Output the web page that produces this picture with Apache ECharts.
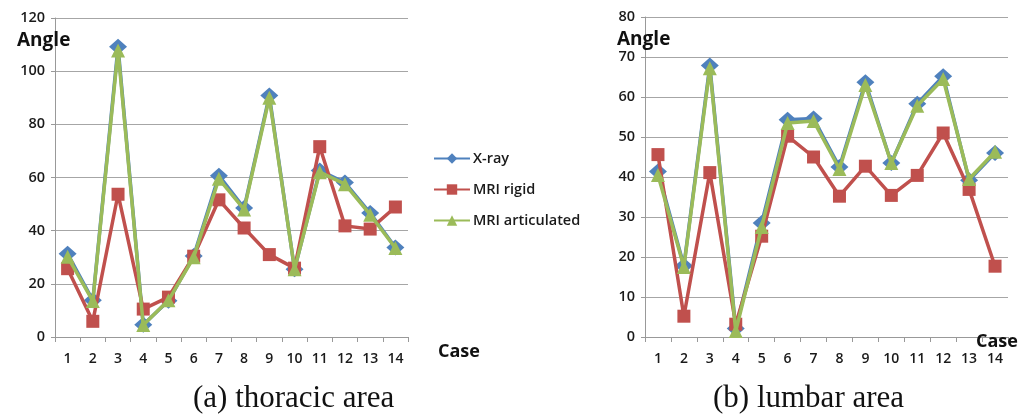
<!DOCTYPE html>
<html>
<head>
<meta charset="utf-8">
<script src="https://cdn.jsdelivr.net/npm/echarts@6/dist/echarts.min.js"></script>
<style>html,body{margin:0;padding:0;background:#fff}#c{width:1021px;height:416px}</style>
</head>
<body>
<div id="c"></div>
<script>
var cases = ['1','2','3','4','5','6','7','8','9','10','11','12','13','14'];
var seriesNames = ['X-ray', 'MRI rigid', 'MRI articulated'];

var thoracicXray = [31.3, 13.8, 109.2, 4.6, 13.6, 30.5, 60.7, 48.5, 90.8, 25.5, 62.6, 58.1, 46.6, 33.7];
var thoracicRigid = [25.7, 5.9, 53.7, 10.5, 15.0, 30.4, 51.6, 41.0, 31.0, 25.9, 71.6, 41.8, 40.6, 48.9];
var thoracicArtic = [30.2, 13.5, 107.8, 4.5, 13.8, 30.0, 59.5, 48.0, 90.0, 25.5, 62.0, 57.5, 46.0, 33.5];

var lumbarXray = [41.4, 17.8, 67.9, 2.1, 28.5, 54.3, 54.6, 42.5, 63.7, 43.5, 58.3, 65.2, 39.2, 46.0];
var lumbarRigid = [45.6, 5.2, 41.1, 3.2, 25.2, 50.2, 45.0, 35.2, 42.7, 35.4, 40.4, 51.0, 36.9, 17.7];
var lumbarArtic = [40.5, 17.5, 67.2, 1.5, 27.5, 53.5, 54.0, 42.0, 63.0, 43.5, 57.8, 64.5, 39.5, 46.3];

var thoracicTicks = {min: 0, max: 120, interval: 20};
var lumbarTicks = {min: 0, max: 80, interval: 10};

var colors = ['#4F81BD', '#C0504D', '#9BBB59'];
var symbols = ['diamond', 'rect', 'triangle'];
var symbolSizes = [[18, 16], 13, 14];
var labelFont = {fontFamily: 'Open Sans', fontWeight: 600, fontSize: 14, color: '#1a1a1a'};

function mkSeries(idx, name, data, k) {
  return {
    type: 'line', name: name, data: data,
    xAxisIndex: idx, yAxisIndex: idx,
    symbol: symbols[k], symbolSize: symbolSizes[k],
    showAllSymbol: true,
    lineStyle: {width: 3.5, color: colors[k]},
    itemStyle: {color: colors[k]},
    z: 2 + k,
    animation: false
  };
}

function xAxis(idx) {
  return {
    type: 'category', gridIndex: idx, data: cases, boundaryGap: true,
    axisLine: {lineStyle: {color: '#999', width: 1}},
    axisTick: {show: true, inside: false, length: 5, alignWithLabel: false, lineStyle: {color: '#999'}},
    axisLabel: Object.assign({margin: 15}, labelFont)
  };
}
function yAxis(idx, t) {
  return {
    type: 'value', gridIndex: idx, min: t.min, max: t.max, interval: t.interval,
    axisLine: {show: true, lineStyle: {color: '#999'}},
    axisTick: {show: true, length: 4, lineStyle: {color: '#999'}},
    splitLine: {show: true, lineStyle: {color: '#a6a6a6', width: 1}},
    axisLabel: Object.assign({margin: 10}, labelFont, {fontSize: 14.5})
  };
}

var chart = echarts.init(document.getElementById('c'), null, {renderer: 'canvas'});
chart.setOption({
  animation: false,
  backgroundColor: '#fff',
  color: colors,
  grid: [
    {left: 55, right: 613, top: 18, bottom: 79},
    {left: 645, right: 13, top: 17, bottom: 79}
  ],
  xAxis: [xAxis(0), xAxis(1)],
  yAxis: [yAxis(0, thoracicTicks), yAxis(1, lumbarTicks)],
  legend: {
    orient: 'vertical', left: 428, top: 146, itemGap: 16,
    itemWidth: 36, itemHeight: 13,
    data: seriesNames,
    textStyle: {fontFamily: 'Open Sans', fontWeight: 600, fontSize: 14.5, color: '#1a1a1a', padding: [0, 0, 0, -2]}
  },
  title: [
    {text: 'Angle', left: 12, top: 26, textStyle: {fontFamily: 'Open Sans', fontWeight: 700, fontSize: 19, color: '#111'}},
    {text: 'Angle', left: 612, top: 25, textStyle: {fontFamily: 'Open Sans', fontWeight: 700, fontSize: 19, color: '#111'}},
    {text: 'Case', left: 433, top: 338, textStyle: {fontFamily: 'Open Sans', fontWeight: 700, fontSize: 18, color: '#111'}},
    {text: 'Case', left: 971, top: 328, textStyle: {fontFamily: 'Open Sans', fontWeight: 700, fontSize: 18, color: '#111'}},
    {text: '(a) thoracic area', left: 188, top: 378, textStyle: {fontFamily: 'Liberation Serif', fontWeight: 400, fontSize: 31, color: '#111'}},
    {text: '(b) lumbar area', left: 708, top: 378, textStyle: {fontFamily: 'Liberation Serif', fontWeight: 400, fontSize: 31, color: '#111'}}
  ],
  series: [
    mkSeries(0, seriesNames[0], thoracicXray, 0),
    mkSeries(0, seriesNames[1], thoracicRigid, 1),
    mkSeries(0, seriesNames[2], thoracicArtic, 2),
    mkSeries(1, seriesNames[0], lumbarXray, 0),
    mkSeries(1, seriesNames[1], lumbarRigid, 1),
    mkSeries(1, seriesNames[2], lumbarArtic, 2)
  ]
});
</script>
</body>
</html>
